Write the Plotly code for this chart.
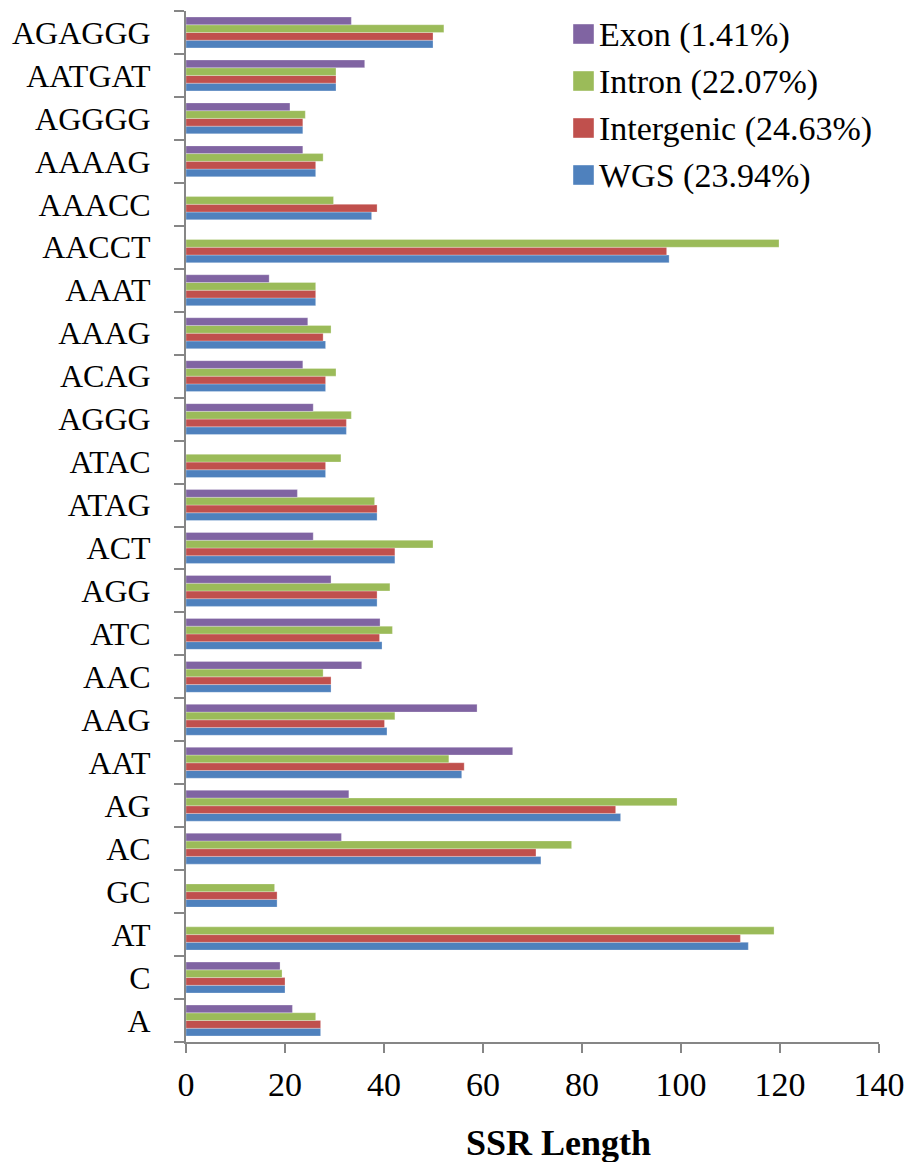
import plotly.graph_objects as go

categories = ["A", "C", "AT", "GC", "AC", "AG", "AAT", "AAG", "AAC", "ATC", "AGG", "ACT",
              "ATAG", "ATAC", "AGGG", "ACAG", "AAAG", "AAAT", "AACCT", "AAACC", "AAAAG",
              "AGGGG", "AATGAT", "AGAGGG"]

wgs = [27.2, 20.0, 113.6, 18.4, 71.7, 87.8, 55.7, 40.6, 29.3, 39.6, 38.6, 42.2,
       38.6, 28.2, 32.4, 28.2, 28.2, 26.2, 97.6, 37.5, 26.2, 23.6, 30.3, 49.9]
intergenic = [27.2, 20.0, 112.0, 18.4, 70.7, 86.8, 56.2, 40.1, 29.3, 39.1, 38.6, 42.2,
              38.6, 28.2, 32.4, 28.2, 27.7, 26.2, 97.1, 38.6, 26.2, 23.6, 30.3, 49.9]
intron = [26.2, 19.4, 118.8, 17.9, 77.9, 99.2, 53.1, 42.2, 27.7, 41.7, 41.2, 49.9,
          38.1, 31.3, 33.4, 30.3, 29.3, 26.2, 119.8, 29.8, 27.7, 24.1, 30.3, 52.1]
exon = [21.5, 19.0, 0, 0, 31.4, 32.9, 66.0, 58.8, 35.5, 39.2, 29.3, 25.7,
        22.5, 0, 25.7, 23.6, 24.6, 16.8, 0, 0, 23.6, 21.0, 36.1, 33.4]

series_names = ["WGS (23.94%)", "Intergenic (24.63%)", "Intron (22.07%)", "Exon (1.41%)"]
series_colors = ["#4F81BD", "#C0504D", "#9BBB59", "#8064A2"]
series_values = [wgs, intergenic, intron, exon]

x_ticks = [0, 20, 40, 60, 80, 100, 120, 140]
x_title = "SSR Length"

FONT = "Liberation Serif"
AXIS_GRAY = "#868686"

FIG_W, FIG_H = 909, 1162
# plot area in pixels
SL, ST, SR, SB = 186, 11, 879, 1042
L, T, W, H = SL, ST, SR - SL, SB - ST

def px(x):
    return (x - SL) / W
def py(y):
    return (SB - y) / H

fig = go.Figure()
for name, color, vals in zip(series_names, series_colors, series_values):
    fig.add_trace(go.Bar(
        y=categories, x=vals, name=name, orientation="h",
        marker=dict(color=color, line=dict(color="rgba(255,255,255,0.35)", width=0.8)),
        showlegend=False,
    ))

# custom legend (top-to-bottom: Exon, Intron, Intergenic, WGS)
legend_rows = list(zip(series_names[::-1], series_colors[::-1]))
row_centers = [34, 81, 128, 175]
for (name, color), cy in zip(legend_rows, row_centers):
    fig.add_shape(type="rect", xref="paper", yref="paper",
                  x0=px(573), x1=px(594), y0=py(cy + 10), y1=py(cy - 10),
                  fillcolor=color, line=dict(color="rgba(255,255,255,0.5)", width=0.8))
    fig.add_annotation(xref="paper", yref="paper", x=px(597), y=py(cy + 1),
                       text=name, showarrow=False, xanchor="left", yanchor="middle",
                       font=dict(family=FONT, size=34, color="black"))

# x-axis title
fig.add_annotation(xref="paper", yref="paper", x=px(558), y=py(1143),
                   text="<b>" + x_title + "</b>", showarrow=False,
                   xanchor="center", yanchor="middle",
                   font=dict(family=FONT, size=36, color="black"))

fig.update_layout(
    width=FIG_W, height=FIG_H,
    margin=dict(l=L, r=FIG_W - L - W, t=T, b=FIG_H - T - H, autoexpand=False),
    barmode="group", bargap=0.28, bargroupgap=0,
    plot_bgcolor="white", paper_bgcolor="white",
    font=dict(family=FONT, color="black"),
    xaxis=dict(
        range=[0, 140], tickvals=x_ticks, ticktext=[str(v) for v in x_ticks],
        showgrid=False, zeroline=False, showline=True, linecolor=AXIS_GRAY, linewidth=2,
        ticks="outside", ticklen=9, tickwidth=2, tickcolor=AXIS_GRAY,
        tickfont=dict(family=FONT, size=34, color="black"),
        ticklabelstandoff=2, automargin=False,
    ),
    yaxis=dict(
        type="category", categoryorder="array", categoryarray=categories,
        showgrid=False, zeroline=False, showline=True, linecolor=AXIS_GRAY, linewidth=2,
        ticks="outside", tickson="boundaries", ticklen=10, tickwidth=2, tickcolor=AXIS_GRAY,
        tickfont=dict(family=FONT, size=32, color="black"),
        ticklabelstandoff=27, automargin=False,
    ),
)

# remove the default page margin so the figure fills the window exactly
fig.write_html("out.html",
               config={"displayModeBar": False},
               post_script="document.body.style.margin='0';document.body.style.overflow='hidden';")
